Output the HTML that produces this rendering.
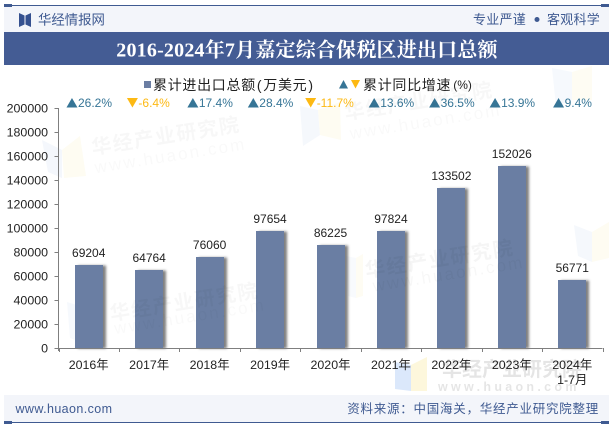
<!DOCTYPE html>
<html lang="zh-CN">
<head>
<meta charset="utf-8">
<title>2016-2024年7月嘉定综合保税区进出口总额</title>
<style>
html,body{margin:0;padding:0;background:#fff;}
#stage{position:relative;width:615px;height:427px;overflow:hidden;background:#fff;font-family:"Liberation Sans","Noto Sans CJK SC",sans-serif;}
svg{position:absolute;left:0;top:0;}
</style>
</head>
<body>
<div id="stage">
<svg id="chart" width="615" height="427" viewBox="0 0 615 427" xmlns="http://www.w3.org/2000/svg">
  <defs>
    <filter id="barShadow" x="-30%" y="-10%" width="170%" height="120%">
      <feDropShadow dx="3" dy="0.500" stdDeviation="1.300" flood-color="#000" flood-opacity="0.5"/>
    </filter>
  </defs>
  <rect x="4" y="6" width="605" height="26" fill="#f3f5fa"/>
  <rect x="4" y="5" width="605" height="1" fill="#3f5a91"/>
  <rect x="4" y="4" width="8" height="3" fill="#3f5a91"/>
  <rect x="601" y="4" width="8" height="3" fill="#3f5a91"/>
  <path d="M19 13 L24.500 15.500 V24.500 L19 27 Z M31 13 L25.500 15.500 V24.500 L31 27 Z" fill="#34508f"/>
  <text x="38" y="24.500" font-size="13.400" fill="#3f5a91">华经情报网</text>
  <text x="473" y="24" font-size="13" letter-spacing="0.250" fill="#3f5a91">专业严谨</text>
  <circle cx="537" cy="19.500" r="2.500" fill="#3f5a91"/>
  <text x="547" y="24" font-size="13" letter-spacing="0.250" fill="#3f5a91">客观科学</text>
  <rect x="4" y="32" width="605" height="33" fill="#445c94"/>
  <text x="307" y="56.500" text-anchor="middle" font-family="'Liberation Serif','Noto Serif CJK SC',serif" font-weight="700" font-size="20" letter-spacing="0.200" fill="#fff">2016-2024年7月嘉定综合保税区进出口总额</text>

  <g>
    <path d="M395 362 L411 365 V391 L395 389 Z" fill="#dbe8fb"/>
    <path d="M411 365 L427 357 V391 L411 391 Z" fill="#fdf7dc"/>
    <path d="M42 140 L62 150 V178 L48 172 Z" fill="#f4f7fc"/>
    <path d="M62 150 L80 136 L86 176 L64 178 Z" fill="#fefcf2"/>
    <path d="M300 106 L318 110 L320 135 L303 146 Z" fill="#f5f8fc"/>
    <path d="M318 110 L340 102 L341 140 L320 135 Z" fill="#fefcf2"/>
    <path d="M574 225 L592 232 V262 L578 256 Z" fill="#f5f8fc"/>
    <path d="M592 232 L609 222 V258 L592 262 Z" fill="#fefcf2"/>
    <path d="M552 68 L572 72 V100 L556 106 Z" fill="#f6f9fd"/>
    <path d="M572 72 L592 66 V100 L572 100 Z" fill="#fefcf3"/>
    <path d="M67 302 L80 306 V342 L70 338 Z" fill="#f6f9fd"/>
    <path d="M346 256 L356 258 V298 L348 296 Z" fill="#f8fafd"/>
    <path d="M356 258 L363 254 V296 L356 298 Z" fill="#fefcf3"/>
  </g>

  <g>
    <rect x="144" y="81" width="7" height="7" fill="#6b7ea3"/>
    <text x="153" y="90" font-size="14" letter-spacing="0.700" fill="#222">累计进出口总额<tspan dx="1">(</tspan><tspan dx="1">万美元</tspan><tspan dx="1">)</tspan></text>
    <path d="M339 88.500 L348 88.500 L343.500 80 Z" fill="#367596"/>
    <path d="M351 80 L360 80 L355.500 88.500 Z" fill="#fdb913"/>
    <text x="363" y="90" font-size="14" letter-spacing="0.700" fill="#222">累计同比增速<tspan dx="2" dy="-1" font-size="12" letter-spacing="0">(%)</tspan></text>
  </g>

  <rect x="4" y="395" width="605" height="27" fill="#f3f5fa"/>
  <rect x="4" y="422" width="605" height="1" fill="#3f5a91"/>
  <rect x="4" y="421" width="8" height="3" fill="#3f5a91"/>
  <rect x="601" y="421" width="8" height="3" fill="#3f5a91"/>
  <text x="15.500" y="413" font-size="12.500" letter-spacing="0.400" fill="#3f5a91">www.huaon.com</text>
  <text x="599" y="413" text-anchor="end" font-size="12.500" letter-spacing="0.750" fill="#3f5a91">资料来源：中国海关，华经产业研究院整理</text>
  <g id="plot"></g>

  <g font-weight="700" fill="#000">
    <g transform="rotate(-9 165 145)">
      <text x="92" y="143" font-size="20" fill-opacity="0.03" letter-spacing="1.500">华经产业研究院</text>
      <text x="92" y="162" font-size="17" font-weight="400" fill-opacity="0.025" letter-spacing="2.200">www.huaon.com</text>
    </g>
    <g transform="rotate(-9 165 310)">
      <text x="110" y="312" font-size="20" fill-opacity="0.03" letter-spacing="1.500">华经产业研究院</text>
      <text x="112" y="326" font-size="17" font-weight="400" fill-opacity="0.025" letter-spacing="2.200">www.huaon.com</text>
    </g>
    <g transform="rotate(-9 420 110)">
      <text x="345" y="108" font-size="20" fill-opacity="0.03" letter-spacing="1.500">华经产业研究院</text>
      <text x="347" y="128" font-size="17" font-weight="400" fill-opacity="0.025" letter-spacing="2.200">www.huaon.com</text>
    </g>
    <g transform="rotate(-9 420 265)">
      <text x="365" y="269" font-size="20" fill-opacity="0.04" letter-spacing="1.500">华经产业研究院</text>
      <text x="370" y="284" font-size="17" font-weight="400" fill-opacity="0.03" letter-spacing="2.200">www.huaon.com</text>
    </g>
    <text x="442" y="376" font-size="20" fill-opacity="0.1">华经产业研究院</text>
    <text x="438" y="391" font-size="12.500" fill-opacity="0.1" letter-spacing="3.300">www.huaon.com</text>
  </g>
</svg>
</div>
<script>
var categories = ["2016年","2017年","2018年","2019年","2020年","2021年","2022年","2023年","2024年"];
var categorySubLabels = ["","","","","","","","","1-7月"];
var totals = [69204,64764,76060,97654,86225,97824,133502,152026,56771];
var growth = [26.2,-6.4,17.4,28.4,-11.7,13.6,36.5,13.9,9.4];
var yTicks = [0,20000,40000,60000,80000,100000,120000,140000,160000,180000,200000];

var NS = "http://www.w3.org/2000/svg";
var plot = document.getElementById("plot");
var left = 58.5, right = 602.5, top0 = 108, bottom = 348, yMax = 200000;
var step = (right - left) / categories.length;
function xAt(i){ return left + step * (i + 0.5); }
function yAt(v){ return bottom - (v / yMax) * (bottom - top0); }
function make(tag, attrs, text){
  var el = document.createElementNS(NS, tag);
  for (var k in attrs) el.setAttribute(k, attrs[k]);
  if (text !== undefined) el.textContent = text;
  plot.appendChild(el);
  return el;
}
var el;
el = make("line", {x1:left, x2:left, y1:top0, y2:bottom+3, stroke:"#7f7f7f", "stroke-width":1});



yTicks.forEach(function(t){
  var y = Math.round(yAt(t)) + 0.5;
  var tick = make("line", {x1:left-4, x2:left, y1:y, y2:y, stroke:"#7f7f7f", "stroke-width":1});
  
  
  var label = make("text", {x:48, y:y+4, "text-anchor":"end", "font-size":12.4, fill:"#222"}, String(t));
  
  
});

for (var s = 0; s <= categories.length; s++){
  var tx = Math.round(left + step * s) + 0.5;
  var xt = make("line", {x1:tx, x2:tx, y1:bottom, y2:bottom+4, stroke:"#7f7f7f", "stroke-width":1});
  
  
}

categories.forEach(function(c, i){
  var cx = xAt(i);
  var x0 = Math.round(cx - 14);
  var x1 = Math.round(cx + 14);
  var y = Math.round(yAt(totals[i]));
  var bar = make("rect", {x:x0, y:y, width:x1-x0, height:bottom-y, fill:"#6b7ea3", filter:"url(#barShadow)"});
  
  
  var val = make("text", {x:cx, y:y-8, "text-anchor":"middle", "font-size":12, fill:"#222"}, String(totals[i]));
  
  
  var cat = make("text", {x:cx, y:369, "text-anchor":"middle", "font-size":12.4, fill:"#222"}, c);
  
  
  if (categorySubLabels[i]){
    var sub = make("text", {x:cx, y:384, "text-anchor":"middle", "font-size":12.4, fill:"#222"}, categorySubLabels[i]);
    
    
  }
  var up = growth[i] >= 0;
  var color = up ? "#367596" : "#fdb913";
  var str = growth[i].toFixed(1) + "%";
  var txtW = str.length * 6.1;
  var gx = cx - (txtW + 12) / 2 - 1;
  var tri = make("path", {d: up
    ? "M"+gx+" 107.500 L"+(gx+11)+" 107.500 L"+(gx+5.5)+" 98 Z"
    : "M"+gx+" 98 L"+(gx+11)+" 98 L"+(gx+5.5)+" 107.500 Z", fill:color});
  
  
  var gt = make("text", {x:gx+11.5, y:107, "font-size":12, fill:color}, str);
  
  
});

var xAxis = make("line", {x1:left, x2:right, y1:bottom+0.5, y2:bottom+0.5, stroke:"#7f7f7f", "stroke-width":1});


</script>
</body>
</html>
